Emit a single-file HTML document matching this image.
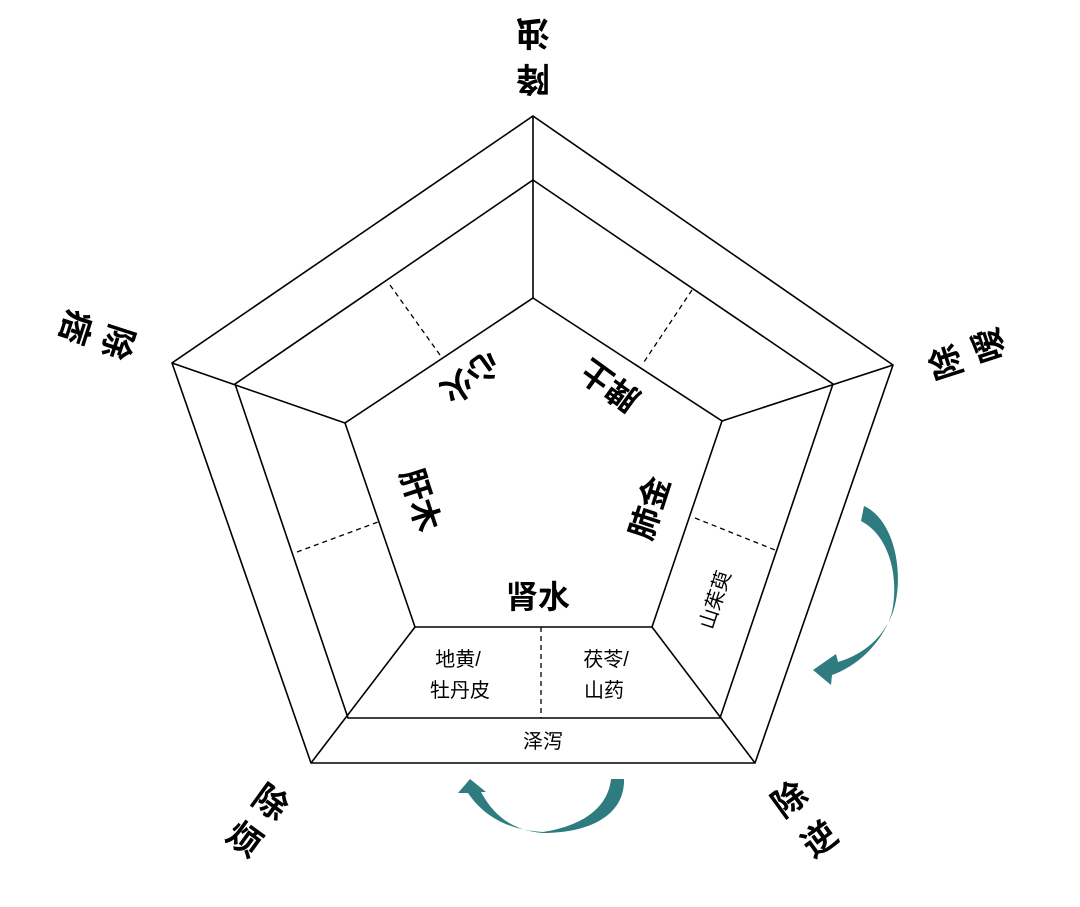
<!DOCTYPE html>
<html><head><meta charset="utf-8"><style>
body{margin:0;background:#fff;}
svg{display:block}
text{font-family:"Liberation Sans","Noto Sans CJK SC",sans-serif;fill:#000;}
.b{font-weight:bold;}
</style></head><body>
<svg width="1080" height="907" viewBox="0 0 1080 907" xmlns="http://www.w3.org/2000/svg">
<g fill="none" stroke="#000" stroke-width="1.6">
<polygon points="533,116 893,365 755,763 311,763 172,363"/>
<polygon points="533,180 833,384 720,718 348,718 235,384"/>
<polygon points="533,298 722,421 652,627 415,627 345,423"/>
<line x1="533" y1="116" x2="533" y2="298"/>
<line x1="893" y1="365" x2="722" y2="421"/>
<line x1="755" y1="763" x2="652" y2="627"/>
<line x1="311" y1="763" x2="415" y2="627"/>
<line x1="172" y1="363" x2="345" y2="423"/>
</g>
<g stroke="#000" stroke-width="1.3" stroke-dasharray="5,4">
<line x1="390" y1="285" x2="440" y2="355"/>
<line x1="692" y1="290" x2="642" y2="365"/>
<line x1="297" y1="552" x2="378" y2="522"/>
<line x1="695" y1="518" x2="775" y2="550"/>
<line x1="541" y1="627" x2="541" y2="718"/>
</g>
<g class="b" font-size="34" text-anchor="middle" dominant-baseline="central">
<text transform="translate(533,32) rotate(180)">浊</text>
<text transform="translate(533,78) rotate(180)">降</text>
<text transform="translate(117,342) rotate(108)">除</text>
<text transform="translate(75,327) rotate(108)">痞</text>
<text transform="translate(947,362) rotate(-108)">除</text>
<text transform="translate(990,345) rotate(-108)">嗳</text>
<text transform="translate(270,803) rotate(36)">除</text>
<text transform="translate(244,840) rotate(36)">烦</text>
<text transform="translate(790,800) rotate(-36)">除</text>
<text transform="translate(820,840) rotate(-36)">逆</text>
</g>
<g class="b" font-size="32" text-anchor="middle" dominant-baseline="central">
<text transform="translate(470,377) rotate(144)">心火</text>
<text transform="translate(610,385) rotate(-144)">脾土</text>
<text transform="translate(650,508) rotate(-72)">肺金</text>
<text transform="translate(420,500) rotate(72)">肝木</text>
<text transform="translate(538,597)">肾水</text>
</g>
<g font-size="20" text-anchor="middle" dominant-baseline="central">
<text x="458" y="660">地黄/</text>
<text x="460" y="691">牡丹皮</text>
<text x="606" y="660">茯苓/</text>
<text x="604" y="691">山药</text>
<text x="543" y="742">泽泻</text>
<text transform="translate(716,600) rotate(-72)">山茱萸</text>
</g>
<g fill="#2e7b80">
<path d="M864,506 C895,520 905,575 893,612 C882,642 858,656 838,662 L836,654 L813,670 L831,685 L832,675 C860,665 884,640 892,612 C899,578 890,536 861,521 Z"/>
<path d="M611,779 L624,779 C625,815 590,833 543,833 C515,831 495,818 481,792 L486,792 L470,779 L458,793 L468,793 C485,818 510,830 543,832 C582,826 608,808 611,779 Z"/>
</g>
</svg>
</body></html>
